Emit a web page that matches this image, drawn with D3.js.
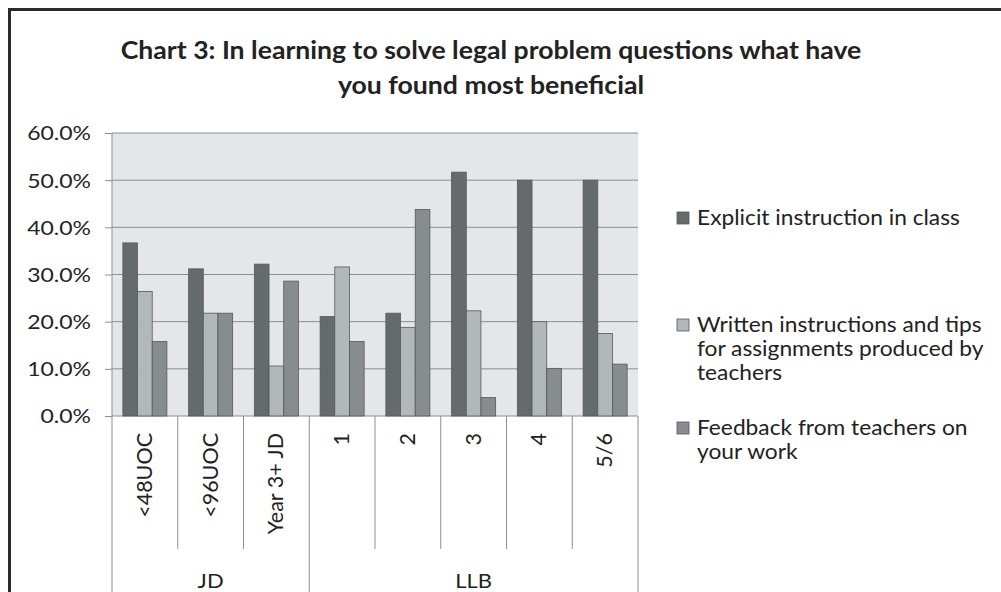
<!DOCTYPE html>
<html>
<head>
<meta charset="utf-8">
<script src="https://cdn.jsdelivr.net/npm/d3@7"></script>
<style>
  body { margin: 0; background: #fff; }
  text { font-family: Lato, "Open Sans", sans-serif; fill: #222; }
</style>
</head>
<body>
<script>
// data
const categories = ['<48UOC', '<96UOC', 'Year 3+ JD', '1', '2', '3', '4', '5/6'];
const groups = [
  { name: 'JD', from: 0, to: 2 },
  { name: 'LLB', from: 3, to: 7 }
];
const seriesNames = [
  'Explicit instruction in class',
  'Written instructions and tips for assignments produced by teachers',
  'Feedback from teachers on your work'
];
const explicitVals = [36.7, 31.2, 32.2, 21.1, 21.8, 51.7, 50.0, 50.0];
const writtenVals  = [26.4, 21.8, 10.6, 31.6, 18.8, 22.3, 20.0, 17.5];
const feedbackVals = [15.8, 21.8, 28.6, 15.8, 43.8, 3.9, 10.1, 11.0];
const yTicks = [0, 10, 20, 30, 40, 50, 60];
const titleLines = [
  'Chart 3: In learning to solve legal problem questions what have',
  'you found most beneficial'
];
const legendLines = [
  ['Explicit instruction in class'],
  ['Written instructions and tips', 'for assignments produced by', 'teachers'],
  ['Feedback from teachers on', 'your work']
];

const W = 1001, H = 592;
const colors = ['#656a6d', '#b2b7ba', '#878c8f'];
const allVals = [explicitVals, writtenVals, feedbackVals];

const svg = d3.select('body').append('svg')
  .attr('width', W).attr('height', H);

svg.append('rect').attr('width', W).attr('height', H).attr('fill', '#fff');

// outer frame
svg.append('path')
  .attr('d', `M9.5,${H} V9.5 H${W}`)
  .attr('fill', 'none').attr('stroke', '#2a2a2a').attr('stroke-width', 3);

// title (source text is a bit wider than Lato, so stretch it)
svg.append('g').selectAll('text').data(titleLines).join('text')
  .attr('transform', (d, i) => `translate(491,${59 + i * 35}) scale(1.065,1)`)
  .attr('text-anchor', 'middle')
  .attr('font-size', 25).attr('font-weight', 'bold')
  .text(d => d);

const plot = { left: 112, right: 638, top: 133, bottom: 416 };

const x = d3.scaleBand().domain(categories).range([plot.left, plot.right]).padding(0);
const xs = d3.scaleBand().domain(d3.range(3)).range([0, x.bandwidth()])
  .paddingInner(0).paddingOuter(0.74);
const y = d3.scaleLinear().domain([0, 60]).range([plot.bottom, plot.top]);

svg.append('rect')
  .attr('x', plot.left).attr('y', plot.top)
  .attr('width', plot.right - plot.left).attr('height', plot.bottom - plot.top)
  .attr('fill', '#e3e7ea');

// gridlines + y axis
const yAxis = svg.append('g')
  .attr('transform', `translate(${plot.left},0)`)
  .call(d3.axisLeft(y).tickValues(yTicks).tickSize(7)
    .tickFormat(d => d.toFixed(1) + '%'));
yAxis.select('.domain').remove();
yAxis.selectAll('line').attr('stroke', '#8a8f92');
yAxis.selectAll('text')
  .attr('x', 0).attr('dy', '0.36em')
  .attr('transform', 'translate(-21,0) scale(1.21,1)')
  .attr('font-size', 19).attr('fill', '#222')
  .style('font-family', 'Lato, sans-serif');

svg.append('g').selectAll('line').data(yTicks).join('line')
  .attr('x1', plot.left).attr('x2', plot.right)
  .attr('y1', d => y(d)).attr('y2', d => y(d))
  .attr('stroke', '#8a8f92').attr('stroke-width', 1);

svg.append('line')
  .attr('x1', plot.left).attr('x2', plot.left)
  .attr('y1', plot.top).attr('y2', plot.bottom)
  .attr('stroke', '#8a8f92');

// bars
allVals.forEach((vals, s) => {
  svg.append('g').selectAll('rect').data(vals).join('rect')
    .attr('x', (d, i) => x(categories[i]) + xs(s))
    .attr('y', d => y(d))
    .attr('width', xs.bandwidth())
    .attr('height', d => y(0) - y(d))
    .attr('fill', colors[s])
    .attr('stroke', '#55595b').attr('stroke-width', 0.8);
});

// category axis boxes
const boundaries = d3.range(categories.length + 1).map(i =>
  i < categories.length ? x(categories[i]) : plot.right);
const groupEdges = new Set([0, 3, 8]);
svg.append('g').selectAll('line').data(boundaries).join('line')
  .attr('x1', d => d).attr('x2', d => d)
  .attr('y1', plot.bottom)
  .attr('y2', (d, i) => groupEdges.has(i) ? 600 : 549)
  .attr('stroke', '#8a8f92');

svg.append('g').selectAll('text').data(categories).join('text')
  .attr('transform', d => `translate(${x(d) + x.bandwidth() / 2 + 7},433) rotate(-90)`)
  .attr('text-anchor', 'end')
  .attr('font-size', 21.5)
  .text(d => d);

svg.append('g').selectAll('text').data(groups).join('text')
  .attr('transform', d =>
    `translate(${(boundaries[d.from] + boundaries[d.to + 1]) / 2},588) scale(1.1,1)`)
  .attr('text-anchor', 'middle')
  .attr('font-size', 20)
  .text(d => d.name);

// legend
const legendTop = [218, 325, 428];
const leg = svg.append('g');
legendLines.forEach((lines, s) => {
  leg.append('rect')
    .attr('x', 677).attr('y', legendTop[s] - 6)
    .attr('width', 12).attr('height', 12)
    .attr('fill', colors[s]).attr('stroke', '#55595b').attr('stroke-width', 0.8);
  leg.append('g').selectAll('text').data(lines).join('text')
    .attr('transform', (d, i) => `translate(697,${legendTop[s] + 7 + i * 24}) scale(1.11,1)`)
    .attr('font-size', 20.5)
    .text(d => d);
});
</script>
</body>
</html>
